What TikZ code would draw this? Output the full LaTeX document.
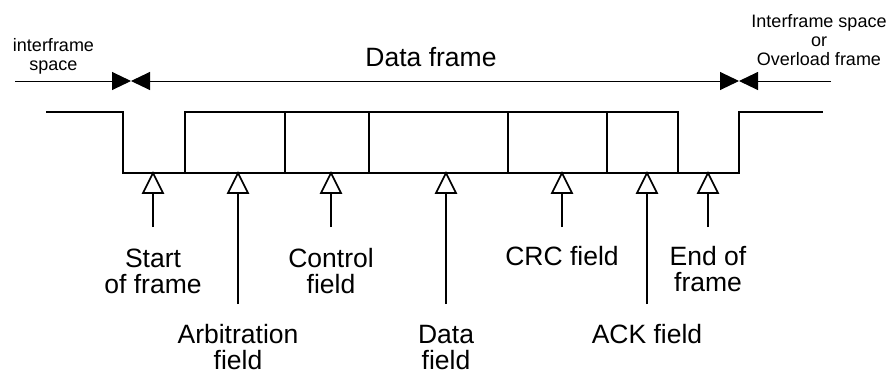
\documentclass[tikz,border=0pt]{standalone}
\usepackage{fontspec}
\setmainfont{Liberation Sans}
\usetikzlibrary{arrows.meta}
\begin{document}
\begin{tikzpicture}[x=1pt,y=-1pt,
  big/.style={font=\fontsize{26.5}{26}\selectfont, align=center, anchor=base, inner sep=0pt},
  small/.style={font=\fontsize{18}{19}\selectfont, align=center, anchor=base, inner sep=0pt},
  signal/.style={line width=1.6pt, line join=miter},
  span/.style={line width=1pt},
  blacktip/.style={-{Triangle[width=18pt,length=19pt]}},
  twotips/.style={{Triangle[width=18pt,length=19pt]}-{Triangle[width=18pt,length=19pt]}},
  stem/.style={line width=1.6pt},
  hollow/.style={line width=1.6pt, line join=miter, fill=white}
]
\useasboundingbox (0,0) rectangle (896,370);

% frame extent markers along the top
\coordinate (leftend) at (15,81);
\coordinate (sofb) at (131,81);
\coordinate (eofb) at (739,81);
\coordinate (rightend) at (831,81);
\draw[span,blacktip] (leftend) -- (sofb);
\draw[span,twotips] (sofb) -- (eofb);
\draw[span,blacktip] (rightend) -- (eofb);

% multi-line nodes are placed by the baseline of their last line
\node[small] (ifs) at (53.5,70) {interframe\\space};
\node[small] (ifsr) at (819,65) {Interframe space\\or\\Overload frame};
\node[big] (df) at (431,66) {Data frame};

% bus level and frame fields
\draw[signal] (46,112) -- (123,112) -- (123,173) -- (739,173) -- (739,112) -- (823,112);
\draw[signal] (185,112) rectangle (678,173);
\foreach \xx in {285,369,508,607} \draw[signal] (\xx,112) -- (\xx,173);

% field pointers: stem plus hollow triangle touching the bus line
\foreach \nm/\xx/\yy in {sof/153/227, arb/238/304, ctl/331/227, dat/446/304, crc/562/227, ack/647/304, eof/708/227}{
  \coordinate (\nm-s) at (\xx,\yy);
  \coordinate (\nm-b) at (\xx,193);
  \coordinate (\nm-t) at (\xx,173);
  \draw[stem] (\nm-s) -- (\nm-b);
  \draw[hollow] (\nm-t) -- ++(-10,20) -- ++(20,0) -- cycle;
}

\node[big] (lsof) at (153,293) {Start\\of frame};
\node[big] (lctl) at (331,293) {Control\\field};
\node[big] (lcrc) at (562,265) {CRC field};
\node[big] (leof) at (708,291) {End of\\frame};
\node[big] (larb) at (238,369) {Arbitration\\field};
\node[big] (ldat) at (446,369) {Data\\field};
\node[big] (lack) at (647,343) {ACK field};
\end{tikzpicture}
\end{document}
